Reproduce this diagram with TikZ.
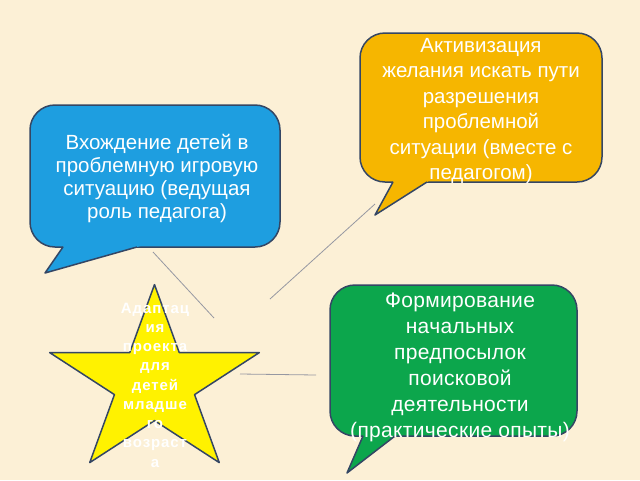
\documentclass[tikz,border=0pt]{standalone}
\usepackage{fontspec}
\setmainfont{Liberation Sans}
\usetikzlibrary{calc}
\definecolor{paper}{RGB}{252,240,214}
\definecolor{edgeblue}{RGB}{52,70,100}
\definecolor{entryblue}{RGB}{30,158,224}
\definecolor{searchorange}{RGB}{246,182,0}
\definecolor{forminggreen}{RGB}{12,166,76}
\definecolor{linkgray}{RGB}{150,152,162}
\tikzset{
  bubble/.style={draw=edgeblue, line width=1.5pt, line join=round},
  bubbletext/.style={text=white, align=center, inner sep=0pt},
  startext/.style={text=white, align=center, inner sep=0pt,
    font=\bfseries\addfontfeature{LetterSpace=6}\fontsize{15}{19.25}\selectfont},
  link/.style={draw=linkgray, line width=0.8pt},
}
\begin{document}
\begin{tikzpicture}[x=1pt,y=-1pt]
  \fill[paper] (0,0) rectangle (640,480);
  \useasboundingbox (0,0) rectangle (640,480);
  % callouts: body, then tail over its lower edge
  \draw[bubble, fill=entryblue, rounded corners=25] (30,105) rectangle (280,247);
  \coordinate (entry tip) at (45,273);
  \fill[entryblue] ($(entry tip)!1.15!(63,247)$) -- (entry tip) -- ($(entry tip)!1.15!(137,247)$) -- cycle;
  \draw[bubble] (63,247) -- (entry tip) -- (137,247);
  \draw[bubble, fill=searchorange, rounded corners=25] (360,33) rectangle (602,182);
  \coordinate (search tip) at (375,215);
  \fill[searchorange] ($(search tip)!1.12!(393,182)$) -- (search tip) -- ($(search tip)!1.12!(427,182)$) -- cycle;
  \draw[bubble] (393,182) -- (search tip) -- (427,182);
  \draw[bubble, fill=forminggreen, rounded corners=25] (330,285) rectangle (577,436);
  \coordinate (forming tip) at (347,473);
  \fill[forminggreen] ($(forming tip)!1.1!(363,436)$) -- (forming tip) -- ($(forming tip)!1.1!(395,436)$) -- cycle;
  \draw[bubble] (363,436) -- (forming tip) -- (395,436);
  % star
  \begin{scope}[shift={(154.5,383)}, xscale=1.12]
    \draw[bubble, fill=yellow] (-90:98.4)
      \foreach \a in {-18,54,126,198} { -- (\a-36:37.6) -- (\a:98.4) } -- (234:37.6) -- cycle;
  \end{scope}
  % texts
  \node[bubbletext, font=\fontsize{20.5}{23}\selectfont] (entry) at (157,179)
    {Вхождение детей в\\проблемную игровую\\ситуацию (ведущая\\роль педагога)};
  \node[bubbletext, font=\fontsize{20.5}{25.5}\selectfont] (search) at (481,111)
    {Активизация\\желания искать пути\\разрешения\\проблемной\\ситуации (вместе с\\педагогом)};
  \node[bubbletext, font=\addfontfeature{LetterSpace=1.5}\fontsize{21}{26}\selectfont] (forming) at (460,367)
    {Формирование\\начальных\\предпосылок\\поисковой\\деятельности\\(практические опыты)};
  \node[startext] (adapt) at (155,385)
    {Адаптац\\ия\\проекта\\для\\детей\\младше\\го\\возраст\\а};
  % connectors
  \coordinate (entry tail) at (153,252);
  \coordinate (adapt top) at (214,318);
  \coordinate (adapt mid) at (270,299);
  \coordinate (search tail) at (375,204);
  \coordinate (adapt right) at (240,374);
  \coordinate (forming left) at (316,375);
  \draw[link] (entry tail) -- (adapt top);
  \draw[link] (adapt mid) -- (search tail);
  \draw[link] (adapt right) -- (forming left);
\end{tikzpicture}
\end{document}
